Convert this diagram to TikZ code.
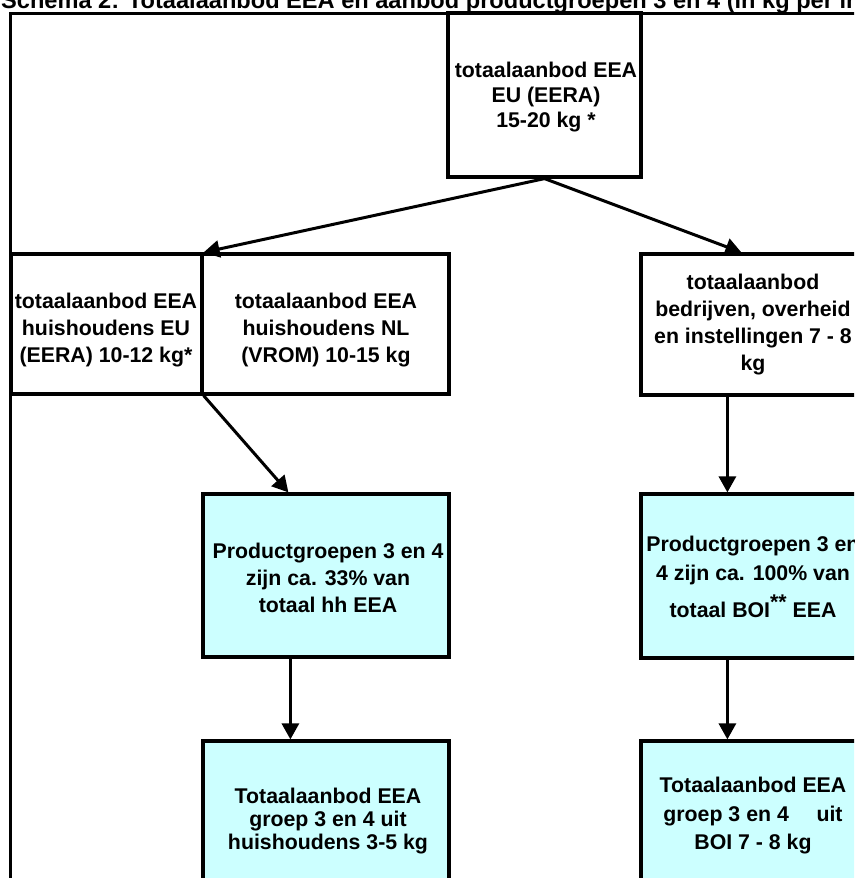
\documentclass[tikz,border=0pt]{standalone}
\usepackage{fontspec}
\setmainfont{Liberation Sans}
\usetikzlibrary{arrows.meta,calc}
\definecolor{lightcyan}{HTML}{CCFFFF}
\begin{document}
\begin{tikzpicture}[x=1pt,y=-1pt,
  box/.style={draw,line width=3.2pt,rectangle,inner sep=0pt,align=center,
    font=\fontsize{21}{27}\selectfont\bfseries},
  bluebox/.style={box,fill=lightcyan},
  txt/.style={inner sep=0pt,align=center,font=\fontsize{21.3}{27}\selectfont\bfseries},
  arr/.style={-{Triangle[length=16pt,width=17pt]},line width=3pt},
  frame/.style={line width=3pt}]
\clip (0,0) rectangle (854,878);
\fill[white] (0,0) rectangle (854,878);
% title
\node[anchor=base west,inner sep=0pt,font=\fontsize{23.6}{24}\selectfont\bfseries] (title) at (1,9)
  {Schema 2: Totaalaanbod EEA en aanbod productgroepen 3 en 4 (in kg per in};
% outer frame
\draw[frame] (10,890) -- (10,13) -- (870,13);
% boxes
\node[box,minimum width=193,minimum height=164] (top) at (544.5,95) {};
\node[txt,font=\fontsize{21.3}{25}\selectfont\bfseries] (t0) at (546,97) {totaalaanbod EEA\\EU (EERA)\\15-20 kg *};
\node[box,minimum width=191,minimum height=140] (box1) at (106.5,324) {};
\node[txt] (t1) at (106,330) {totaalaanbod EEA\\huishoudens EU\\(EERA) 10-12 kg*};
\node[box,minimum width=247,minimum height=140] (box2) at (325.5,324) {};
\node[txt] (t2) at (326,330) {totaalaanbod EEA\\huishoudens NL\\(VROM) 10-15 kg};
\node[box,minimum width=224,minimum height=141] (rtop) at (753,324.5) {};
\node[txt] (t3) at (753,325) {totaalaanbod\\bedrijven, overheid\\en instellingen 7 - 8\\kg};
\node[bluebox,minimum width=246,minimum height=163] (blue1) at (326,575.5) {};
\node[txt] (t4) at (328,578) {Productgroepen 3 en 4\\zijn ca. 33\% van\\totaal hh EEA};
\node[bluebox,minimum width=224,minimum height=164] (blue2) at (753,576) {};
\node[txt,font=\fontsize{21.3}{29}\selectfont\bfseries] (t5) at (753,577) {Productgroepen 3 en\\4 zijn ca. 100\% van\\[8pt]totaal BOI\smash{\raisebox{8pt}{**}} EEA};
\node[bluebox,minimum width=246,minimum height=169] (bot1) at (326,825.5) {};
\node[txt,font=\fontsize{21.3}{23}\selectfont\bfseries] (t6) at (328,821) {Totaalaanbod EEA\\groep 3 en 4 uit\\huishoudens 3-5 kg};
\node[bluebox,minimum width=224,minimum height=169] (bot2) at (753,825.5) {};
\node[txt,font=\fontsize{21.3}{28.5}\selectfont\bfseries] (t7) at (753,816) {Totaalaanbod EEA\\groep 3 en 4\hspace{1.3em}uit\\BOI 7 - 8 kg};
% connectors
\coordinate (rtip) at ($(rtop.north west)+(102,0)$);
\draw[arr] (top.south) -- (box1.north east);
\draw[arr] (top.south) -- (rtip);
\draw[arr] (box1.south east) -- ($(blue1.north west)+(87,0)$);
\draw[arr] ($(blue1.south west)+(89,0)$) -- ($(bot1.north west)+(89,0)$);
\draw[arr] ($(rtop.south west)+(88,0)$) -- ($(blue2.north west)+(88,0)$);
\draw[arr] ($(blue2.south west)+(88,0)$) -- ($(bot2.north west)+(88,0)$);
\end{tikzpicture}
\end{document}
